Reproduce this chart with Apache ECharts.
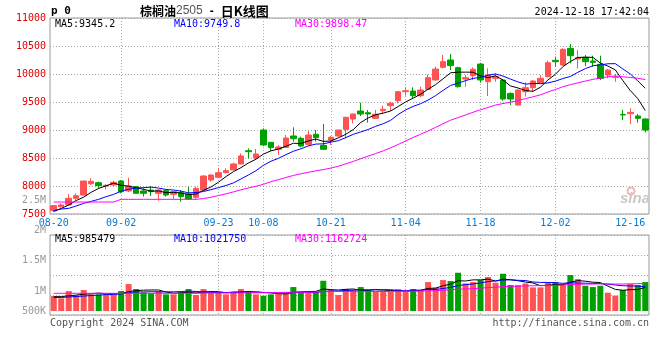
<!DOCTYPE html>
<html><head><meta charset="utf-8">
<script src="https://cdn.jsdelivr.net/npm/echarts@6/dist/echarts.min.js"></script>
<style>html,body{margin:0;padding:0;background:#fff}#c{width:660px;height:360px}</style>
</head><body><div id="c"></div>
<script>
// ---- data ----
const dates = ['08-20','08-21','08-22','08-23','08-26','08-27','08-28','08-29','08-30',
 '09-02','09-03','09-04','09-05','09-06','09-09','09-10','09-11','09-12','09-13','09-18','09-19','09-20','09-23','09-24','09-25','09-26','09-27','09-30',
 '10-08','10-09','10-10','10-11','10-14','10-15','10-16','10-17','10-18','10-21','10-22','10-23','10-24','10-25','10-28','10-29','10-30','10-31',
 '11-01','11-04','11-05','11-06','11-07','11-08','11-11','11-12','11-13','11-14','11-15','11-18','11-19','11-20','11-21','11-22','11-25','11-26','11-27','11-28','11-29',
 '12-02','12-03','12-04','12-05','12-06','12-09','12-10','12-11','12-12','12-13','12-16','12-17','12-18'];
const opens = [7560,7631,7661,7780,7839,8042,8059,7998,8018,8089, 7911,7988,7911,7928,7869,7917,7851,7881,7857,7798,
 7928,8107,8155,8238,8286,8393,8631,8500,9000,8780, 8655,8690,8893,8851,8744,8923,8726,8821,8893,9012,
 9196,9339,9309,9208,9345,9434,9524,9684,9696,9613, 9726,9893,10119,10250,10113,9911,9970,10178,9863,9922,
 9893,9654,9446,9684,9756,9833,9952,10244,10161,10458, 10268,10298,10232,10173,9982,9940,9279,9291,9250,9196];
const closes = [7649,7661,7780,7827,8089,8083,8006,8012,8065,7899, 8000,7869,7869,7899,7928,7839,7899,7810,7768,7958,
 8178,8196,8238,8274,8393,8536,8613,8571,8732,8685, 8696,8857,8845,8714,8910,8863,8655,8869,9000,9226,
 9286,9286,9286,9280,9369,9476,9684,9702,9613,9714, 9934,10089,10220,10149,9774,9934,10083,9893,9982,9952,
 9553,9553,9714,9756,9875,9922,10202,10220,10440,10327, 10292,10220,10208,9922,10071,9946,9268,9315,9208,9000];
const highs = [7655,7690,7857,7869,8095,8137,8077,8030,8095,8107, 8148,8000,7958,8000,7940,7920,7905,7928,7988,7988,
 8196,8208,8315,8315,8417,8583,8672,8660,9030,8780, 8732,8910,9048,8881,8982,9000,9107,8893,9000,9238,
 9290,9488,9357,9357,9434,9506,9696,9756,9762,9774, 9994,10131,10339,10357,10131,9982,10119,10202,10101,10012,
 9911,9672,9726,9851,9893,9982,10238,10310,10458,10536, 10428,10339,10327,10327,10083,9999,9357,9387,9286,9208];
const lows = [7540,7613,7650,7738,7830,8018,7958,7940,7988,7869, 7890,7860,7810,7821,7738,7810,7762,7720,7750,7762,
 7916,8077,8137,8226,8280,8390,8494,8464,8714,8625, 8554,8685,8792,8690,8714,8792,8643,8732,8880,8851,
 9119,9250,9131,9200,9286,9345,9476,9613,9565,9583, 9720,9880,10101,10071,9756,9774,9893,9845,9607,9863,
 9524,9446,9434,9595,9684,9830,9940,10131,10149,10190, 10101,10143,10131,9893,9922,9863,9178,9107,9131,8958];
const volumes = [630000,532000,840000,658000,882000,700000,700000,700000,700000,840000,
 1134000,924000,784000,742000,840000,700000,700000,798000,924000,672000,
 924000,770000,770000,700000,812000,924000,840000,700000,644000,700000,
 770000,770000,1008000,770000,770000,812000,1274000,882000,672000,924000,
 882000,1008000,882000,812000,812000,812000,924000,812000,924000,882000,
 1218000,980000,1303000,1261000,1611000,1162000,1218000,1303000,1429000,1190000,
 1569000,1092000,1092000,1162000,994000,994000,1190000,1218000,1134000,1513000,
 1345000,1064000,1008000,1064000,770000,644000,882000,1134000,1092000,1218000];
// moving-average values before a full window exists
const ma5Head = [7545,7600,7660,7740];
const ma10Head = [7560,7589,7601,7643,7690,7726,7762,7810,7851];
const ma30Head = [7714,7714,7714,7714,7714,7714,7714,7714,7714,7762,7762,7762,7762,7762,7762,7762,7762,7762,7762,7762,7775,7800,7830,7860,7895,7930,7965,7995,8030];
const vma5Head = [600000,605000,640000,670000];
const vma10Head = [565000,570000,590000,610000,630000,650000,670000,690000,700000];
const vma30Head = [745000,745000,745000,745000,745000,745000,745000,745000,745000,745000,745000,745000,745000,745000,745000,745000,745000,745000,750000,750000,750000,755000,755000,760000,760000,760000,765000,765000,770000];
const priceTicks = {min:7500, max:11000, step:500};
const xLabelDates = ['08-20','09-02','09-23','10-08','10-21','11-04','11-18','12-02','12-16'];
const xGridDates = ['09-02','09-23','10-08','10-21','11-04','11-18','12-02'];
const volTickLabels = ['2.5M','2M','1.5M','1M','500K'];
const volTickValues = [2500000,2000000,1500000,1000000,500000];
const titleMain = '棕榈油', titleCode = '2505', titleSep = ' - ', titleTail = '日K线图';
const stamp = '2024-12-18 17:42:04';
const maLegend = ['MA5:9345.2','MA10:9749.8','MA30:9898.47'];
const volLegend = ['MA5:985479','MA10:1021750','MA30:1162724'];

// ---- build ----
function ma(src, n, head){
  const out=[];
  for(let i=0;i<src.length;i++){
    if(i<n-1){out.push(head[i]);continue;}
    let s=0; for(let k=i-n+1;k<=i;k++) s+=src[k];
    out.push(Math.round(s/n*100)/100);
  }
  return out;
}
const MONO='DejaVu Sans Mono';
const RED='#ff5252', GREEN='#00a000';
const GRIDC='#a8a8a8';
const labelIdx = xLabelDates.map(d=>dates.indexOf(d));
const gridIdx = xGridDates.map(d=>dates.indexOf(d));
const kData = opens.map((o,i)=>[o,closes[i],lows[i],highs[i]]);
const volData = volumes.map((v,i)=>({value:v,itemStyle:{color: closes[i]>=opens[i]?RED:GREEN}}));
const L=50, R=11;
const dotted = {color:GRIDC,type:[1,2],width:1};

const chart = echarts.init(document.getElementById('c'), null, {renderer:'canvas'});
function lineS(data, color, xi, yi){
  return {type:'line',data,xAxisIndex:xi,yAxisIndex:yi,showSymbol:false,symbol:'none',
    lineStyle:{color,width:1},itemStyle:{color},silent:true,z:3};
}
const option = {
  animation:false,
  backgroundColor:'#fff',
  grid:[
    {left:L,right:R,top:18,height:196,show:true,borderColor:'#999',borderWidth:1,backgroundColor:'transparent'},
    {left:L,right:R,top:235,height:76,show:false},
    {left:L,right:R,top:235,height:80,show:true,borderColor:'#999',borderWidth:1,backgroundColor:'transparent'}
  ],
  xAxis:[
    {type:'category',gridIndex:0,data:dates,boundaryGap:true,axisLine:{show:false},axisTick:{show:false},
     axisLabel:{interval:(i)=>labelIdx.indexOf(i)>=0,color:'#0a7ad0',fontFamily:MONO,fontSize:10,margin:4},
     splitLine:{show:true,interval:(i)=>gridIdx.indexOf(i)>=0,alignWithLabel:true,lineStyle:dotted}},
    {type:'category',gridIndex:1,data:dates,boundaryGap:true,axisLine:{show:false},axisTick:{show:false},axisLabel:{show:false},splitLine:{show:false}},
    {type:'category',gridIndex:2,data:dates,boundaryGap:true,axisLine:{show:false},axisTick:{show:false},axisLabel:{show:false},
     splitLine:{show:true,interval:(i)=>gridIdx.indexOf(i)>=0,alignWithLabel:true,lineStyle:dotted}}
  ],
  yAxis:[
    {type:'value',gridIndex:0,min:priceTicks.min,max:priceTicks.max,interval:priceTicks.step,scale:true,
     axisLine:{show:false},axisTick:{show:false},
     axisLabel:{color:'#e00000',fontFamily:MONO,fontSize:10,margin:4,formatter:(v)=>String(v)},splitLine:{show:true,lineStyle:dotted}},
    {type:'value',gridIndex:1,min:0,max:3200000,axisLine:{show:false},axisTick:{show:false},axisLabel:{show:false},splitLine:{show:false}},
    {type:'value',gridIndex:2,min:0,max:4,interval:1,axisLine:{show:false},axisTick:{show:false},axisLabel:{show:false},splitLine:{show:true,lineStyle:dotted}}
  ],
  series:[
    {type:'candlestick',xAxisIndex:0,yAxisIndex:0,data:kData,barWidth:6,silent:true,
     itemStyle:{color:RED,color0:GREEN,borderColor:RED,borderColor0:GREEN,borderWidth:1}},
    lineS(ma(closes,5,ma5Head),'#000',0,0),
    lineS(ma(closes,10,ma10Head),'#0000ff',0,0),
    lineS(ma(closes,30,ma30Head),'#ff00ff',0,0),
    {type:'bar',xAxisIndex:1,yAxisIndex:1,data:volData,barWidth:6,silent:true},
    lineS(ma(volumes,5,vma5Head),'#000',1,1),
    lineS(ma(volumes,10,vma10Head),'#0000ff',1,1),
    lineS(ma(volumes,30,vma30Head),'#ff00ff',1,1),
    {type:'line',xAxisIndex:2,yAxisIndex:2,data:[],silent:true}
  ]
};
chart.setOption(option);

// ---- texts ----
function T(text,x,y,st){ return {type:'text',x,y,silent:true,z:10,style:Object.assign({text,fill:'#000',font:'10px "'+MONO+'"',verticalAlign:'middle',align:'left'},st||{})}; }
const g=[];
g.push(T('p 0',51,11,{font:'bold 11px "'+MONO+'"'}));
g.push({type:'text',x:140,y:11,silent:true,z:10,style:{
  text:'{a|'+titleMain+'}{b|'+titleCode+'}{s|'+titleSep+'}{c|'+titleTail+'}',verticalAlign:'middle',align:'left',
  rich:{a:{font:'bold 12px "Noto Sans CJK SC"',fill:'#000'},b:{font:'12px "Liberation Sans"',fill:'#555'},
        s:{font:'bold 10px "'+MONO+'"',fill:'#000'},c:{font:'bold 13px "Noto Sans CJK SC"',fill:'#000'}}}});
g.push(T(stamp,649,12,{align:'right'}));
const legCols=['#000','#0000ff','#ff00ff'], legX=[55,174,295];
maLegend.forEach((s,i)=>g.push(T(s,legX[i],24,{fill:legCols[i]})));
volLegend.forEach((s,i)=>g.push(T(s,legX[i],239,{fill:legCols[i]})));
// volume axis labels (Sina's own label scale: 1M at y=291, 60px per 1M, clamped to the panel)
volTickValues.forEach((v,i)=>{
  const y=Math.min(311, 291-(v-1000000)/1000000*60.5);
  g.push(T(volTickLabels[i],46,y,{align:'right',fill:'#999'}));
});
g.push(T('Copyright 2024 SINA.COM',50,323,{fill:'#555'}));
g.push(T('http://finance.sina.com.cn',649,323,{align:'right',fill:'#555'}));
// watermark
g.push({type:'circle',shape:{cx:631,cy:191,r:3.5},style:{fill:'none',stroke:'#f2b4b4',lineWidth:2},silent:true,z:9});
g.push(T('sina',635,199,{align:'center',font:'italic bold 15px "Liberation Sans"',fill:'#c8c8c8'}));
chart.setOption({graphic:g});
</script></body></html>
